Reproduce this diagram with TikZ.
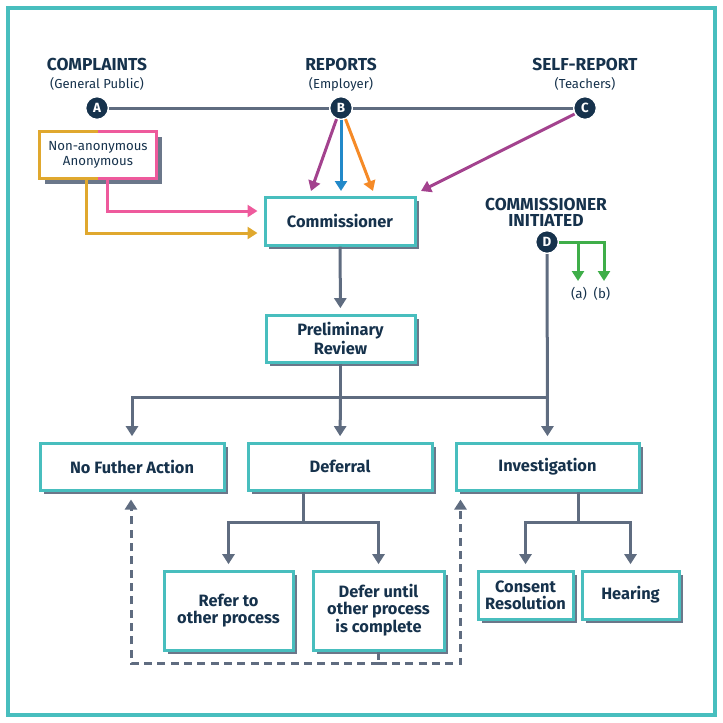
\documentclass[tikz,border=0pt]{standalone}
\usepackage{fontspec}
\setmainfont{Fira Sans}
\usetikzlibrary{arrows.meta,shadows,calc}
\definecolor{cnavy}{HTML}{16324C}
\definecolor{cgray}{HTML}{5F6C80}
\definecolor{cshadow}{HTML}{6B778A}
\definecolor{cteal}{HTML}{48BEBE}
\definecolor{cpurple}{HTML}{A3428E}
\definecolor{cblue}{HTML}{2289C9}
\definecolor{corange}{HTML}{F58A27}
\definecolor{cyellow}{HTML}{E0A82E}
\definecolor{cpink}{HTML}{EE5A9C}
\definecolor{cgreen}{HTML}{3FAE49}
\begin{document}
\begin{tikzpicture}[x=0.75pt,y=-0.75pt,
  tip/.style={-{Triangle[width=9pt,length=7.5pt]}},
  gline/.style={draw=cgray,line width=2.25pt},
  garrow/.style={gline,tip,shorten >=4pt},
  dline/.style={gline,dash pattern=on 6pt off 4pt},
  darrow/.style={dline,tip,shorten >=4pt},
  carrow/.style={line width=2.25pt,tip},
  shad/.style={drop shadow={shadow xshift=3pt,shadow yshift=-3pt,opacity=1,fill=cshadow}},
  box/.style={draw=cteal,line width=2.25pt,fill=white,text=cnavy,align=center,
    font=\bfseries\fontsize{12.3}{12.5}\selectfont,inner sep=0pt,shad},
  dot/.style={circle,fill=cnavy,draw=white,line width=1pt,minimum size=17pt,inner sep=0pt,
    text=white,font=\bfseries\fontsize{10}{10}\selectfont},
  head/.style={text=cnavy,font=\bfseries\fontsize{13}{12}\selectfont,align=center,inner sep=0pt},
  sub/.style={text=cnavy,font=\fontsize{9.8}{11}\selectfont,inner sep=0pt}
]
\useasboundingbox (0,0) rectangle (723,722);
\draw[cteal,line width=2.5pt] (8,8) rectangle (715,715);

% headers
\node[head] (hA) at (97,64) {COMPLAINTS};
\node[sub]  (sA) at (97,84) {(General Public)};
\node[head] (hB) at (341,64) {REPORTS};
\node[sub]  (sB) at (341,84) {(Employer)};
\node[head] (hC) at (585,64) {SELF-REPORT};
\node[sub]  (sC) at (585,84) {(Teachers)};
\node[head] (hD) at (546,212) {COMMISSIONER\\INITIATED};

% dots
\node[dot] (A) at (97,108) {A};
\node[dot] (B) at (341,108) {B};
\node[dot] (C) at (585,108) {C};
\node[dot] (D) at (547,242) {D};

% non-anonymous box with split border and shadow
\fill[cshadow] (45,136.5) rectangle (161.5,183.5);
\node[minimum width=116*0.75pt,minimum height=47*0.75pt,fill=white,text=cnavy,align=center,inner sep=0pt,
  font=\fontsize{9.9}{11.5}\selectfont] (nb) at (98,155) {Non-anonymous\\Anonymous};
\draw[cyellow,line width=2.25pt] (nb.north) -- (nb.north west) -- (nb.south west) -- (nb.south);
\draw[cpink,line width=2.25pt] (nb.north) -- (nb.north east) -- (nb.south east) -- (nb.south);

\node[box,minimum width=150*0.75pt,minimum height=48*0.75pt] (comm) at (340,221) {Commissioner};
\node[box,minimum width=149*0.75pt,minimum height=47*0.75pt] (prelim) at (340.5,338.5) {Preliminary\\Review};
\node[box,minimum width=184*0.75pt,minimum height=47*0.75pt] (nfa) at (132,466.5) {No Futher Action};
\node[box,minimum width=184*0.75pt,minimum height=47*0.75pt] (def) at (340,466.5) {Deferral};
\node[box,minimum width=183*0.75pt,minimum height=47*0.75pt] (inv) at (547.5,466.5) {Investigation};
\node[box,minimum width=129*0.75pt,minimum height=79*0.75pt] (refer) at (228.5,610.5) {Refer to\\other process};
\node[box,minimum width=131*0.75pt,minimum height=79*0.75pt] (defer) at (378.5,610.5) {Defer until\\other process\\is complete};
\node[box,minimum width=95*0.75pt,minimum height=48*0.75pt] (consent) at (525.5,595) {Consent\\Resolution};
\node[box,minimum width=97*0.75pt,minimum height=48*0.75pt] (hearing) at (630.5,595) {Hearing};

\node[sub,font=\fontsize{10}{12}\selectfont] (la) at (579,294) {(a)};
\node[sub,font=\fontsize{10}{12}\selectfont] (lb) at (602,294) {(b)};

% top line
\draw[gline] (A) -- (B) -- (C);

% colored arrows from B and C
\coordinate (pB1) at (311,191);
\coordinate (pB2) at (341,191);
\coordinate (pB3) at (373,191);
\coordinate (pC) at (421,191);
\draw[carrow,cpurple] (B.-112) -- (pB1);
\draw[carrow,cblue] (B) -- (pB2);
\draw[carrow,corange] (B.-68) -- (pB3);
\draw[carrow,cpurple] (C.-150) -- (pC);

% pink / yellow
\draw[carrow,cpink] ($(nb.south west)+(68,0)$) |- ($(comm.west)+(-6,-10)$);
\draw[carrow,cyellow] ($(nb.south west)+(47,0)$) |- ($(comm.west)+(-6,12)$);

% green
\coordinate (g1) at (578,242);
\coordinate (g2) at (604,242);
\coordinate (ga) at (578,281);
\coordinate (gb) at (604,281);
\draw[carrow,cgreen] (D.east) -- (g2) -- (gb);
\draw[carrow,cgreen] (g1) -- (ga);

% main flow
\draw[garrow] (comm) -- (prelim);
\coordinate (j) at (prelim.south |- 0,397);
\draw[gline] (prelim.south) -- (j);
\draw[gline] (j) -- (j -| D);
\draw[garrow] (j) -| (nfa.north);
\draw[garrow] (j) -- (def.north);
\draw[garrow] (D) -- (inv.north);

\coordinate (k) at (303.5,522);
\draw[gline] (def.south -| k) -- (k);
\draw[garrow] (k) -| (refer.north);
\draw[garrow] (k) -| (defer.north);

\coordinate (q) at (578,522);
\draw[gline] (inv.south -| q) -- (q);
\draw[garrow] (q) -| (consent.north);
\draw[garrow] (q) -| (hearing.north);

% dashed returns
\coordinate (m) at ($(defer.south)+(0,12)$);
\draw[dline] (defer.south) -- (m);
\draw[darrow,shorten >=6pt] (m) -| ($(nfa.south)+(-1,0)$);
\draw[darrow,shorten >=6pt] (m) -| ($(inv.south west)+(6,0)$);
\end{tikzpicture}
\end{document}
